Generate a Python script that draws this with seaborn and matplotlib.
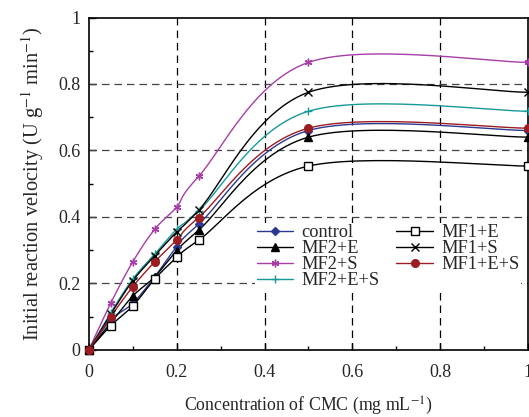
import numpy as np
import seaborn as sns
import matplotlib.pyplot as plt
from matplotlib.lines import Line2D
from matplotlib.ticker import MultipleLocator

# CMC concentration (mg/mL) and initial velocities
cmc = [0, 0.05, 0.1, 0.15, 0.2, 0.25, 0.5, 1.0]
control = [0, 0.09, 0.14, 0.22, 0.31, 0.378, 0.660, 0.660]
mf2_e = [0, 0.082, 0.162, 0.22, 0.298, 0.36, 0.640, 0.640]
mf2_s = [0, 0.141, 0.265, 0.363, 0.43, 0.522, 0.865, 0.865]
mf2_es = [0, 0.112, 0.213, 0.288, 0.363, 0.418, 0.718, 0.718]
mf1_e = [0, 0.073, 0.132, 0.213, 0.278, 0.33, 0.553, 0.553]
mf1_s = [0, 0.108, 0.208, 0.283, 0.355, 0.42, 0.775, 0.775]
mf1_es = [0, 0.10, 0.19, 0.265, 0.33, 0.398, 0.667, 0.667]

series = [
    ('control', control, '#2b3990', 'D', '#2b3990'),
    ('MF2+E', mf2_e, 'black', '^', 'black'),
    ('MF2+S', mf2_s, '#a63da8', (6, 2, 0), '#a63da8'),
    ('MF2+E+S', mf2_es, '#17999a', '+', '#17999a'),
    ('MF1+E', mf1_e, 'black', 's', 'white'),
    ('MF1+S', mf1_s, 'black', 'x', 'black'),
    ('MF1+E+S', mf1_es, '#9b1c22', 'o', '#9b1c22'),
]


def smooth(xs, ys, n=30):
    # spreadsheet-style smoothed line (bezier through the points)
    p = np.column_stack([xs, ys]).astype(float)
    pts = np.vstack([p[0], p, p[-1]])
    t = np.linspace(0, 1, n)[:, None]
    out = []
    for i in range(1, len(pts) - 2):
        p0, p1, p2, p3 = pts[i - 1], pts[i], pts[i + 1], pts[i + 2]
        b1 = p1 + (p2 - p0) / 6
        b2 = p2 - (p3 - p1) / 6
        seg = ((1 - t) ** 3) * p1 + 3 * ((1 - t) ** 2) * t * b1 \
            + 3 * (1 - t) * t ** 2 * b2 + t ** 3 * p2
        out.append(seg if i == 1 else seg[1:])
    out = np.vstack(out)
    return out[:, 0], out[:, 1]


sns.set_theme(style='ticks')
plt.rcParams['font.family'] = ['Liberation Serif', 'DejaVu Serif']
plt.rcParams['mathtext.fontset'] = 'stix'

fig = plt.figure(figsize=(5.29, 4.17), dpi=100)
ax = fig.add_axes([0.168, 0.161, 0.83, 0.797])

for xv in [0.2, 0.4, 0.6, 0.8]:
    ax.axvline(xv, color='black', lw=0.9, ls=(0, (6, 4)), zorder=1)
for yv in [0.2, 0.4, 0.6, 0.8]:
    ax.axhline(yv, color='#444444', lw=0.9, ls=(0, (6, 4)), zorder=1)

handles = []
for name, vals, col, mk, fc in series:
    sx, sy = smooth(cmc, vals)
    sns.lineplot(x=sx, y=sy, sort=False, estimator=None, color=col,
                 lw=1.0, ax=ax, zorder=2)
    ms = 4.5 if mk == 'D' else 5.5
    ax.plot(cmc, vals, ls='none', marker=mk, ms=ms,
            mfc=fc, mec=col, mew=1.0, zorder=3, clip_on=False)
    handles.append(Line2D([], [], color=col, lw=1.0, marker=mk, ms=ms,
                          mfc=fc, mec=col, mew=1.0, label=name))

ax.set_xlim(0, 1)
ax.set_ylim(0, 1)
ax.xaxis.set_minor_locator(MultipleLocator(0.1))
ax.yaxis.set_minor_locator(MultipleLocator(0.1))
ax.set_xticks([0, 0.2, 0.4, 0.6, 0.8, 1])
ax.set_xticklabels(['0', '0.2', '0.4', '0.6', '0.8', '1'])
ax.set_yticks([0, 0.2, 0.4, 0.6, 0.8, 1])
ax.set_yticklabels(['0', '0.2', '0.4', '0.6', '0.8', '1'])
ax.tick_params(which='both', direction='in', labelsize=13, color='black')
ax.tick_params(which='major', length=5, width=1)
ax.tick_params(which='minor', length=3, width=1)
ax.tick_params(axis='x', pad=10)
ax.tick_params(axis='y', pad=6)
for s in ax.spines.values():
    s.set_color('black')
    s.set_linewidth(1.2)

ax.set_xlabel('Concentration of CMC (mg mL$^{-1}$)', fontsize=12.8, labelpad=10)
ax.set_ylabel('Initial reaction velocity (U g$^{-1}$ min$^{-1}$)', fontsize=14.8,
              labelpad=9)

leg = ax.legend(handles=handles, ncol=2, frameon=True, fontsize=13.2,
                loc='upper left', bbox_to_anchor=(0.378, 0.383),
                handlelength=2.0, handletextpad=0.45, columnspacing=0.9,
                labelspacing=-0.06, borderaxespad=0, borderpad=0.1)
leg.get_frame().set_facecolor('white')
leg.get_frame().set_edgecolor('none')
leg.get_frame().set_alpha(1)
leg.set_zorder(1.5)

fig.savefig('out.png', dpi=100)
